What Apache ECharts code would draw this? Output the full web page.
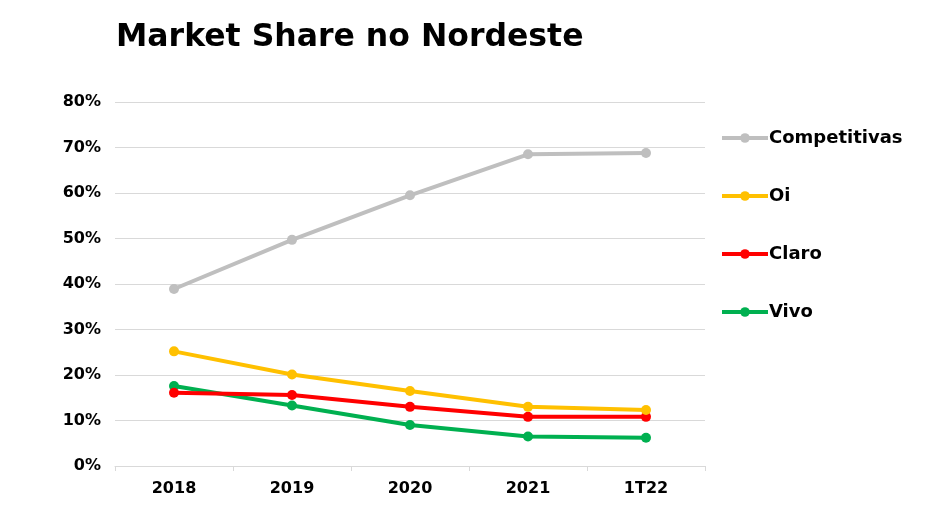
<!DOCTYPE html>
<html>
<head>
<meta charset="utf-8">
<script src="https://cdn.jsdelivr.net/npm/echarts@6/dist/echarts.min.js"></script>
<style>html,body{margin:0;padding:0;background:#fff;}#c{width:936px;height:525px;}</style>
</head>
<body>
<div id="c"></div>
<script>
const categories = ['2018', '2019', '2020', '2021', '1T22'];
const competitivas = [38.9, 49.7, 59.5, 68.5, 68.8];
const oi = [25.2, 20.1, 16.5, 13.0, 12.3];
const claro = [16.1, 15.6, 13.0, 10.8, 10.8];
const vivo = [17.6, 13.3, 9.0, 6.5, 6.2];
const seriesNames = ['Competitivas', 'Oi', 'Claro', 'Vivo'];
const seriesColors = ['#BFBFBF', '#FFC000', '#FF0000', '#00B050'];
const seriesData = [competitivas, oi, claro, vivo];

const font = 'DejaVu Sans';
const chart = echarts.init(document.getElementById('c'));
chart.setOption({
  animation: false,
  backgroundColor: '#fff',
  title: {
    text: 'Market Share no Nordeste',
    left: 111, top: 17,
    textStyle: { fontFamily: font, fontWeight: 'bold', fontSize: 31.5, color: '#000' }
  },
  legend: {
    orient: 'vertical',
    left: 715, top: 124,
    itemWidth: 46, itemHeight: 12,
    itemGap: 40,
    data: seriesNames,
    lineStyle: { width: 4 },
    textStyle: { fontFamily: font, fontWeight: 'bold', fontSize: 18, color: '#000', padding: [0,0,0,-4] }
  },
  grid: { left: 115, right: 231, top: 102, bottom: 59 },
  xAxis: {
    type: 'category',
    data: categories,
    boundaryGap: true,
    axisLine: { lineStyle: { color: '#d9d9d9', width: 1 } },
    axisTick: { show: true, length: 5, lineStyle: { color: '#d9d9d9' } },
    axisLabel: { fontFamily: font, fontWeight: 'bold', fontSize: 16, color: '#000', margin: 15 }
  },
  yAxis: {
    type: 'value',
    min: 0, max: 80, interval: 10,
    axisLine: { show: false },
    axisTick: { show: false },
    splitLine: { lineStyle: { color: '#d9d9d9', width: 1 } },
    axisLabel: { formatter: '{value}%', fontFamily: font, fontWeight: 'bold', fontSize: 16, color: '#000', margin: 14 }
  },
  series: seriesNames.map((n, i) => ({
    name: n,
    type: 'line',
    data: seriesData[i],
    symbol: 'circle',
    symbolSize: 10,
    itemStyle: { color: seriesColors[i] },
    lineStyle: { color: seriesColors[i], width: 4 },
    z: 10 - i
  }))
});
</script>
</body>
</html>
